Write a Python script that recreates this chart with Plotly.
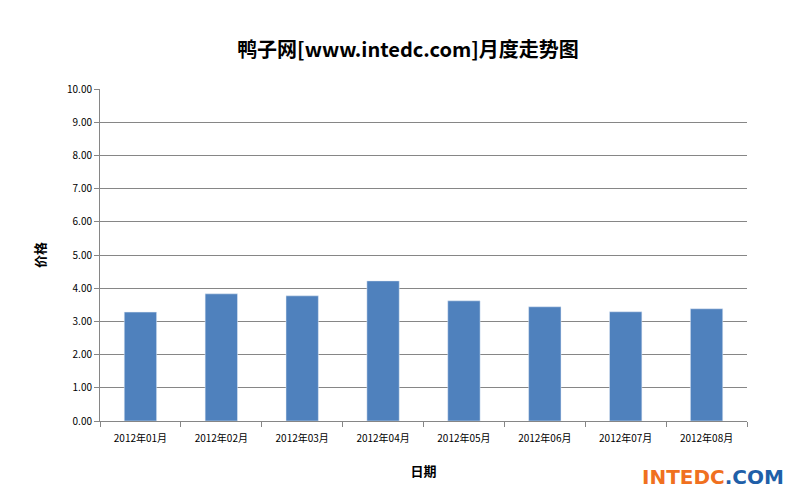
import plotly.graph_objects as go

months = ["2012年01月","2012年02月","2012年03月","2012年04月","2012年05月","2012年06月","2012年07月","2012年08月"]
prices = [3.28, 3.83, 3.77, 4.22, 3.62, 3.44, 3.29, 3.38]
yticks = [i for i in range(11)]

fig = go.Figure(go.Bar(x=months, y=prices, marker_color="#4f81bd", width=0.4))
fig.update_layout(
    width=800, height=497, paper_bgcolor="white", plot_bgcolor="white",
    margin=dict(l=92, r=61, t=81, b=84),
    title=dict(text="<b>鸭子网[www.intedc.com]月度走势图</b>", x=0.5, y=0.93, xanchor="center",
               font=dict(size=20, color="black", family="Noto Sans CJK SC")),
    font=dict(family="Noto Sans CJK SC", size=10, color="black"),
    showlegend=False,
    xaxis=dict(showline=True, linecolor="#868686", ticks="outside", tickcolor="#868686",
               tickson="boundaries", ticklabelstandoff=8,
               title=dict(text="<b>日期</b>", font=dict(size=13), standoff=22),
               tickfont=dict(size=10)),
    yaxis=dict(range=[0, 10], tickvals=yticks, ticktext=[f"{v:.2f}" for v in yticks],
               showgrid=True, gridcolor="#868686", showline=True, linecolor="#868686",
               ticks="outside", tickcolor="#868686",
               title=dict(text="<b>价格</b>", font=dict(size=13), standoff=18),
               tickfont=dict(size=10)),
    annotations=[dict(text="<b><span style='color:#f07020'>INTEDC</span><span style='color:#1f5fa8'>.COM</span></b>",
                      xref="paper", yref="paper", x=1.06, y=-0.21, xanchor="right", yanchor="bottom",
                      showarrow=False, font=dict(size=20, family="DejaVu Sans"))],
)
fig.write_html("out.html")
